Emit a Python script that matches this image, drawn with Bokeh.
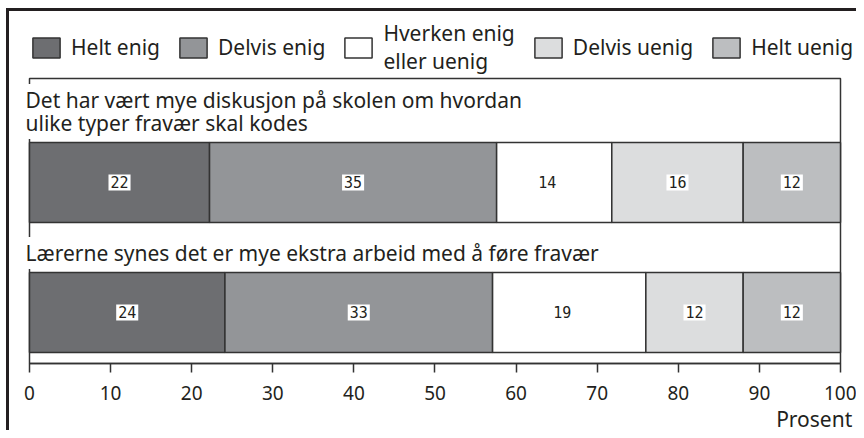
from bokeh.plotting import figure
from bokeh.models import Range1d, ColumnDataSource, Legend, LegendItem, Label
from bokeh.core.properties import value
from bokeh.embed import file_html
from bokeh.resources import INLINE
import numpy as np

# ---- data ----
questions = [
    "Det har vært mye diskusjon på skolen om hvordan\nulike typer fravær skal kodes",
    "Lærerne synes det er mye ekstra arbeid med å føre fravær",
]
categories = ["Helt enig", "Delvis enig", "Hverken enig\neller uenig", "Delvis uenig", "Helt uenig"]
q1_values = [22.2, 35.4, 14.2, 16.2, 12.0]
q2_values = [24.1, 33.0, 18.9, 12.0, 12.0]
q1_labels = ["22", "35", "14", "16", "12"]
q2_labels = ["24", "33", "19", "12", "12"]
x_ticks = [0, 10, 20, 30, 40, 50, 60, 70, 80, 90, 100]
axis_title = "Prosent"
colors = ["#6d6e71", "#939598", "#ffffff", "#dcddde", "#bcbec0"]
label_dx = [0, 0, -7, 0, 0]   # style: small left shift of labels in the white segment

FONT = "Noto Sans"
TXT = "#231f20"
EDGE = "#333333"

values = np.array([q1_values, q2_values])
labels = [q1_labels, q2_labels]
rights = np.cumsum(values, axis=1)
lefts = rights - values
rows = [0, 1]

AXIS_Y = 1.3923   # layout: position of the x axis below the bars
W, H = 856, 430
p = figure(width=W, height=H, x_range=Range1d(-3.5758, 101.973), y_range=Range1d(1.9077, -1.4),
           output_backend="svg", toolbar_location=None, y_axis_location=None,
           min_border_left=0, min_border_right=0, min_border_top=0, min_border_bottom=0)
p.styles = {
    "background": ("linear-gradient(#231f20,#231f20) 6px 8px / 3px 100% no-repeat, "
                   "linear-gradient(#231f20,#231f20) 6px 8px / 100% 3px no-repeat")
}
p.xgrid.visible = False
p.ygrid.visible = False
p.outline_line_color = None
p.background_fill_color = None
p.border_fill_color = None

# plot box
p.quad(left=x_ticks[0], right=x_ticks[-1], top=-0.8, bottom=AXIS_Y,
       fill_color=None, line_color=EDGE, line_width=1.5)

renderers = []
for j, cat in enumerate(categories):
    src = ColumnDataSource(dict(y=rows, left=lefts[:, j], right=rights[:, j]))
    r = p.hbar(y="y", left="left", right="right", height=0.615, source=src,
               fill_color=colors[j], line_color=EDGE, line_width=1.5)
    renderers.append(r)

# value labels
xs, ys, ts, dxs = [], [], [], []
for i in rows:
    for j in range(len(categories)):
        xs.append((lefts[i, j] + rights[i, j]) / 2)
        ys.append(i)
        ts.append(labels[i][j])
        dxs.append(label_dx[j])
lab_src = ColumnDataSource(dict(x=xs, y=ys, t=ts, dx=dxs))
p.text(x="x", y="y", text="t", x_offset="dx", source=lab_src, text_align="center",
       text_baseline="middle", text_font=value("DejaVu Sans Mono"), text_font_size="15px",
       text_color=TXT, background_fill_color="white", padding=2)

# question titles
for i, q in zip(rows, questions):
    p.add_layout(Label(x=-0.74, y=i - 0.335, text=q, text_align="left", text_baseline="bottom",
                       text_font=FONT, text_font_size="21px", text_color=TXT,
                       text_line_height=0.82,
                       background_fill_color="white", padding=2))

# axis
ax = p.xaxis[0]
ax.fixed_location = AXIS_Y
ax.ticker = x_ticks
ax.bounds = (x_ticks[0], x_ticks[-1])
ax.minor_tick_line_color = None
ax.major_tick_in = 0
ax.major_tick_out = 9
ax.major_tick_line_color = EDGE
ax.major_tick_line_width = 1.5
ax.axis_line_color = EDGE
ax.axis_line_width = 1.5
ax.major_label_text_font = FONT
ax.major_label_text_font_size = "19px"
ax.major_label_text_color = TXT
ax.major_label_standoff = 14

p.add_layout(Label(x=101.45, y=1.8154, text=axis_title, text_align="right",
                   text_baseline="middle", text_font=FONT, text_font_size="21px",
                   text_color=TXT))

legend = Legend(items=[LegendItem(label=c, renderers=[r]) for c, r in zip(categories, renderers)],
                orientation="horizontal", location=(29, 355), glyph_width=34, glyph_height=25,
                label_standoff=8, spacing=16, padding=0, margin=0,
                border_line_alpha=0, background_fill_alpha=0,
                label_text_font=FONT, label_text_font_size="21px", label_text_color=TXT,
                label_text_line_height=0.66)
p.add_layout(legend)

open("out.html", "w").write(file_html(p, INLINE))
